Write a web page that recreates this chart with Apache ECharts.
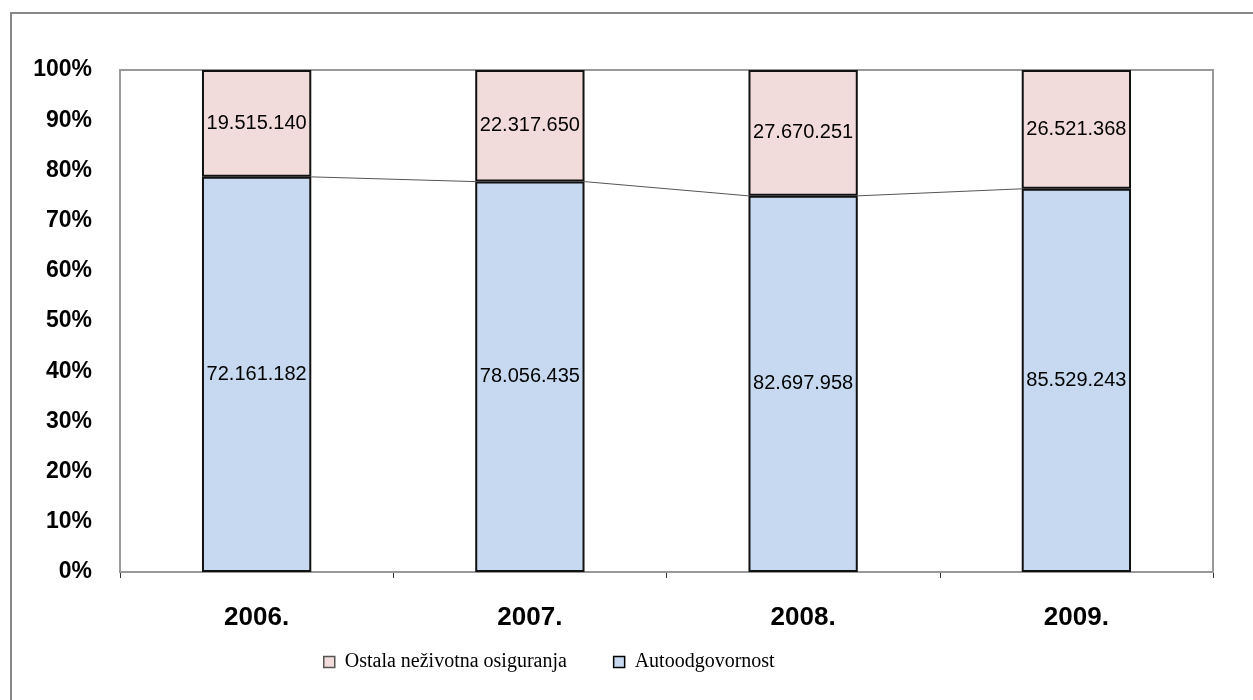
<!DOCTYPE html>
<html>
<head>
<meta charset="utf-8">
<script src="https://cdn.jsdelivr.net/npm/echarts@6/dist/echarts.min.js"></script>
<style>html,body{margin:0;padding:0;background:#fff}#c{width:1253px;height:700px}</style>
</head>
<body>
<div id="c"></div>
<script>
const categories = ['2006.', '2007.', '2008.', '2009.'];
const autoodgovornost = [72161182, 78056435, 82697958, 85529243];
const ostala = [19515140, 22317650, 27670251, 26521368];
const seriesNames = ['Ostala neživotna osiguranja', 'Autoodgovornost'];
const yTicks = [0, 10, 20, 30, 40, 50, 60, 70, 80, 90, 100];

const totals = categories.map((c, i) => autoodgovornost[i] + ostala[i]);
const autoPct = autoodgovornost.map((v, i) => v / totals[i] * 100);
const ostalaPct = ostala.map((v, i) => v / totals[i] * 100);
const fmt = v => String(v).replace(/\B(?=(\d{3})+(?!\d))/g, '.');

const chart = echarts.init(document.getElementById('c'));
const BAR_FRAC = 0.4;
chart.setOption({
  animation: false,
  graphic: [
    { type: 'rect', shape: { x: 11, y: 13, width: 1300, height: 760 }, style: { fill: 'none', stroke: '#888', lineWidth: 2 }, z: 0 },
    { type: 'rect', shape: { x: 120, y: 70, width: 1093, height: 502 }, style: { fill: 'none', stroke: '#999', lineWidth: 2 }, z: 1 }
  ],
  grid: { left: 120, right: 40, top: 70, bottom: 128, containLabel: false },
  legend: {
    top: 647, left: 318, itemGap: 46,
    itemWidth: 11, itemHeight: 11, icon: 'rect',
    formatter: n => ' ' + n,
    textStyle: { fontFamily: 'Liberation Serif', fontSize: 20, color: '#000' },
    data: seriesNames.map((n, i) => ({ name: n, itemStyle: { borderColor: i === 0 ? '#555' : '#000', borderWidth: 1.5 } }))
  },
  xAxis: {
    type: 'category', data: categories,
    axisLine: { lineStyle: { color: '#333', width: 2 } },
    axisTick: { show: true, length: 6, lineStyle: { color: '#333', width: 1 } },
    axisLabel: { fontFamily: 'Liberation Sans', fontWeight: 'bold', fontSize: 26, color: '#000', margin: 33 }
  },
  yAxis: {
    type: 'value', min: 0, max: 100, interval: 10,
    axisLine: { show: false }, axisTick: { show: false }, splitLine: { show: false },
    axisLabel: { fontFamily: 'Liberation Sans', fontWeight: 'bold', fontSize: 23, color: '#000', margin: 28,
      formatter: v => yTicks.includes(v) ? v + '%' : '' }
  },
  series: [
    {
      name: 'Autoodgovornost', type: 'bar', stack: 's', barWidth: '40%',
      data: autoPct,
      itemStyle: { color: '#C6D9F1', borderColor: '#111', borderWidth: 2 },
      label: { show: true, position: 'inside', color: '#000', fontFamily: 'Liberation Sans', fontSize: 20,
        formatter: p => fmt(autoodgovornost[p.dataIndex]) }
    },
    {
      name: 'Ostala neživotna osiguranja', type: 'bar', stack: 's', barWidth: '40%',
      data: ostalaPct,
      itemStyle: { color: '#F2DCDB', borderColor: '#111', borderWidth: 2 },
      label: { show: true, position: 'inside', color: '#000', fontFamily: 'Liberation Sans', fontSize: 20,
        formatter: p => fmt(ostala[p.dataIndex]) }
    },
    {
      name: 'seriesLines', type: 'custom', silent: true, z: 1,
      data: autoPct.slice(0, -1).map((p, i) => [i, p, autoPct[i + 1]]),
      renderItem: (params, api) => {
        const i = api.value(0);
        const a = api.coord([i, api.value(1)]);
        const b = api.coord([i + 1, api.value(2)]);
        const half = api.size([1, 0])[0] * BAR_FRAC / 2;
        return { type: 'line', shape: { x1: a[0] + half, y1: a[1], x2: b[0] - half, y2: b[1] },
          style: { stroke: '#555', lineWidth: 1 } };
      }
    }
  ]
});
</script>
</body>
</html>
